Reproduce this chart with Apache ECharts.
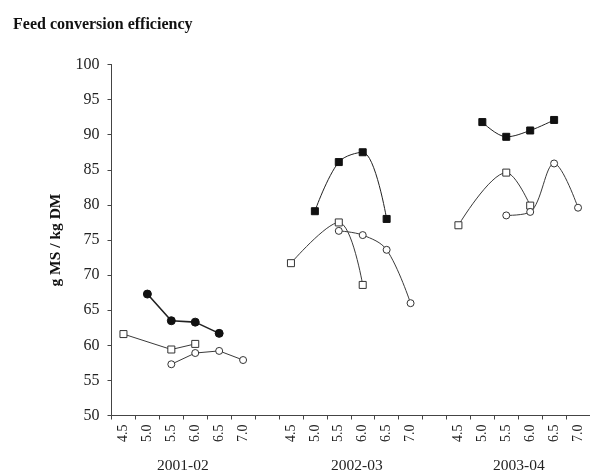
<!DOCTYPE html>
<html>
<head>
<meta charset="utf-8">
<script src="https://cdn.jsdelivr.net/npm/echarts@6/dist/echarts.min.js"></script>
<style>
  html, body { margin: 0; padding: 0; background: #fff; }
  #chart { width: 590px; height: 476px; }
</style>
</head>
<body>
<div id="chart"></div>
<script>
// ---- data ----
const tickLabels = ['4.5', '5.0', '5.5', '6.0', '6.5', '7.0'];
const years = ['2001-02', '2002-03', '2003-04'];

const filled2001 = [null, 67.3, 63.5, 63.3, 61.7, null];
const square2001 = [61.6, null, 59.4, 60.2, null, null];
const circle2001 = [null, null, 57.3, 58.9, 59.2, 57.9];

const filled2002 = [null, 79.1, 86.1, 87.5, 78.0, null];
const square2002 = [71.7, null, 77.5, 68.6, null, null];
const circle2002 = [null, null, 76.3, 75.7, 73.6, 66.0];

const filled2003 = [null, 91.8, 89.7, 90.6, 92.1, null];
const square2003 = [77.1, null, 84.6, 79.9, null, null];
const circle2003 = [null, null, 78.5, 79.0, 85.9, 79.6];

const yTicks = { min: 50, max: 100, step: 5 };

// ---- build category axis: 6 ticks per year with a blank slot between years ----
const categories = [];
years.forEach((y, i) => {
  tickLabels.forEach(t => categories.push(t));
  if (i < years.length - 1) categories.push('');
});
const per = tickLabels.length + 1;
function place(yearIdx, arr) {
  const out = new Array(categories.length).fill(null);
  arr.forEach((v, i) => { out[yearIdx * per + i] = v; });
  return out;
}

const serif = "'Liberation Serif', 'DejaVu Serif', serif";
const lineCol = '#3a3a3a';

function mk(yearIdx, arr, kind) {
  const smooth = yearIdx > 0 ? 0.35 : false;
  const base = {
    type: 'line',
    data: place(yearIdx, arr),
    connectNulls: true,
    smooth: smooth,
    lineStyle: { color: lineCol, width: 1 },
    z: 3,
    silent: true,
    animation: false
  };
  if (kind === 'filled') {
    base.symbol = yearIdx === 0 ? 'circle' : 'rect';
    base.symbolSize = yearIdx === 0 ? 8 : 7;
    base.itemStyle = { color: '#111', borderColor: '#111', borderWidth: 1 };
    base.lineStyle = { color: '#222', width: yearIdx === 0 ? 1.6 : 1 };
    base.z = 4;
  } else if (kind === 'square') {
    base.symbol = 'rect';
    base.symbolSize = 7;
    base.itemStyle = { color: '#fff', borderColor: '#333', borderWidth: 1 };
  } else {
    base.symbol = 'circle';
    base.symbolSize = 7;
    base.itemStyle = { color: '#fff', borderColor: '#333', borderWidth: 1 };
  }
  return base;
}

const series = [
  mk(0, filled2001, 'filled'), mk(0, square2001, 'square'), mk(0, circle2001, 'circle'),
  mk(1, filled2002, 'filled'), mk(1, square2002, 'square'), mk(1, circle2002, 'circle'),
  mk(2, filled2003, 'filled'), mk(2, square2003, 'square'), mk(2, circle2003, 'circle')
];

const groupX = [188, 362, 524];

const chart = echarts.init(document.getElementById('chart'), null, { renderer: 'canvas' });
chart.setOption({
  animation: false,
  backgroundColor: '#fff',
  title: {
    text: 'Feed conversion efficiency',
    left: 8, top: 12,
    textStyle: { fontFamily: serif, fontSize: 16, fontWeight: 'bold', color: '#111' }
  },
  grid: { left: 111.5, top: 64.5, width: 482, height: 351 },
  xAxis: {
    type: 'category',
    data: categories,
    boundaryGap: true,
    axisLine: { show: true, lineStyle: { color: '#444', width: 1 } },
    axisTick: { show: true, interval: 0, length: 4, lineStyle: { color: '#444' } },
    axisLabel: {
      interval: 0, rotate: 90, margin: 9,
      fontFamily: serif, fontSize: 14, color: '#222'
    },
    splitLine: { show: false }
  },
  yAxis: {
    type: 'value',
    min: yTicks.min, max: yTicks.max, interval: yTicks.step,
    name: 'g MS / kg DM',
    nameLocation: 'middle',
    nameRotate: 90,
    nameGap: 48,
    nameTextStyle: { fontFamily: serif, fontSize: 15.5, fontWeight: 'bold', color: '#111' },
    axisLine: { show: true, lineStyle: { color: '#444', width: 1 } },
    axisTick: { show: true, length: 4, lineStyle: { color: '#444' } },
    axisLabel: { margin: 12, fontFamily: serif, fontSize: 16, color: '#222' },
    splitLine: { show: false }
  },
  graphic: years.map((y, i) => ({
    type: 'text',
    left: groupX[i] - 31,
    top: 458,
    style: { text: y, font: '15.5px ' + serif, fill: '#222' }
  })),
  series: series
});
</script>
</body>
</html>
